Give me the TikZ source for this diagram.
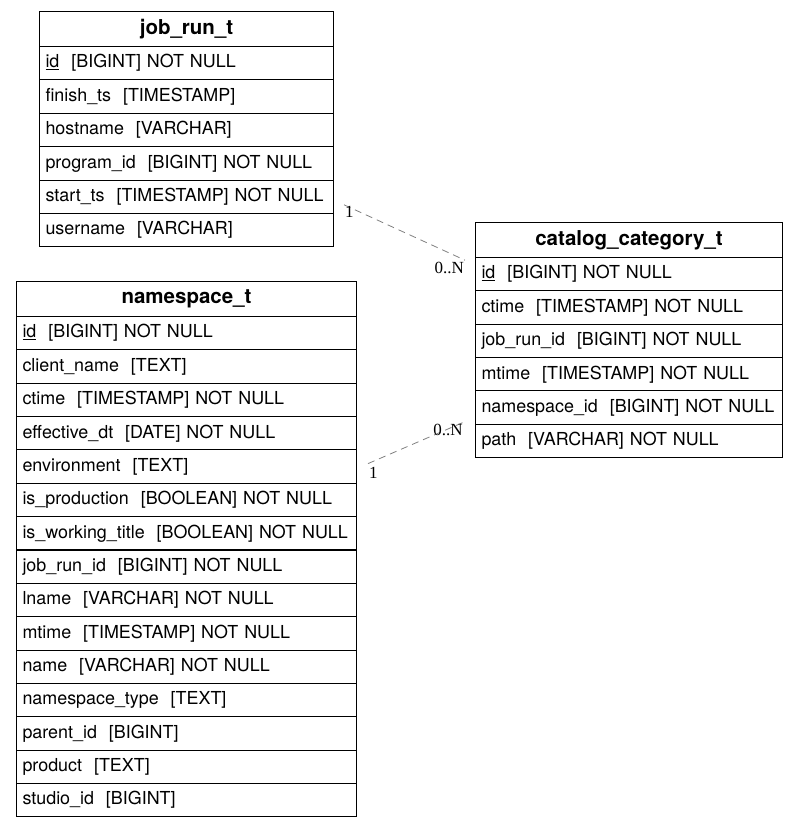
\documentclass[tikz,border=0pt]{standalone}
\usepackage{fontspec}
\setmainfont{TeX Gyre Heros}
\newfontfamily\cardfont{Liberation Serif}
\usetikzlibrary{calc}

\tikzset{
  field/.style={draw,line width=1pt,rectangle,anchor=north west,minimum height=33.4pt,
    text width=#1,inner xsep=6pt,inner ysep=0pt,align=left,font=\fontsize{17.9}{20}\selectfont},
  header/.style={field=#1,minimum height=35pt,align=center,font=\fontsize{20.5}{23}\bfseries\selectfont},
  rel/.style={line width=.8pt,gray,dash pattern=on 7pt off 5pt},
  card/.style={font=\cardfont\fontsize{17}{19}\selectfont,inner sep=1pt}
}

\begin{document}
\begin{tikzpicture}[x=1pt,y=-1pt]
  \useasboundingbox (0,0) rectangle (798,827);

  % job_run_t
  \node[header=282pt] (jr0) at (39,11) {job\_run\_t};
  \foreach \f [count=\i] in {\underline{id}\ \ [BIGINT] NOT NULL, finish\_ts\ \ [TIMESTAMP],
      hostname\ \ [VARCHAR], program\_id\ \ [BIGINT] NOT NULL,
      start\_ts\ \ [TIMESTAMP] NOT NULL, username\ \ [VARCHAR]}
    \node[field=282pt] (jr\i) at (39,{46+(\i-1)*33.4}) {\f};

  % namespace_t
  \node[header=328pt] (ns0) at (16,281) {namespace\_t};
  \foreach \f [count=\i] in {\underline{id}\ \ [BIGINT] NOT NULL, client\_name\ \ [TEXT],
      ctime\ \ [TIMESTAMP] NOT NULL, effective\_dt\ \ [DATE] NOT NULL,
      environment\ \ [TEXT], is\_production\ \ [BOOLEAN] NOT NULL,
      is\_working\_title\ \ [BOOLEAN] NOT NULL, job\_run\_id\ \ [BIGINT] NOT NULL,
      lname\ \ [VARCHAR] NOT NULL, mtime\ \ [TIMESTAMP] NOT NULL,
      name\ \ [VARCHAR] NOT NULL, namespace\_type\ \ [TEXT],
      parent\_id\ \ [BIGINT], product\ \ [TEXT], studio\_id\ \ [BIGINT]}
    \node[field=328pt] (ns\i) at (16,{316+(\i-1)*33.35}) {\f};

  % catalog_category_t
  \node[header=295pt] (cc0) at (475,222) {catalog\_category\_t};
  \foreach \f [count=\i] in {\underline{id}\ \ [BIGINT] NOT NULL, ctime\ \ [TIMESTAMP] NOT NULL,
      job\_run\_id\ \ [BIGINT] NOT NULL, mtime\ \ [TIMESTAMP] NOT NULL,
      namespace\_id\ \ [BIGINT] NOT NULL, path\ \ [VARCHAR] NOT NULL}
    \node[field=295pt] (cc\i) at (475,{257+(\i-1)*33.35}) {\f};

  % relations
  \coordinate (a1) at ($(jr5.east)+(10,8)$);
  \coordinate (b1) at ($(cc1.west)+(-10,-14)$);
  \draw[rel] (a1) -- (b1);
  \node[card,anchor=north west] at ($(a1)+(0,0)$) {1};
  \node[card,anchor=north east] at ($(b1)+(0,1)$) {0..N};

  \coordinate (a2) at ($(ns5.east)+(11,-3)$);
  \coordinate (b2) at ($(cc5.west)+(-10,14)$);
  \draw[rel] (a2) -- (b2);
  \node[card,anchor=north west] at ($(a2)+(0,2)$) {1};
  \node[card] at ($(b2)+(-17,8)$) {0..N};
\end{tikzpicture}
\end{document}
